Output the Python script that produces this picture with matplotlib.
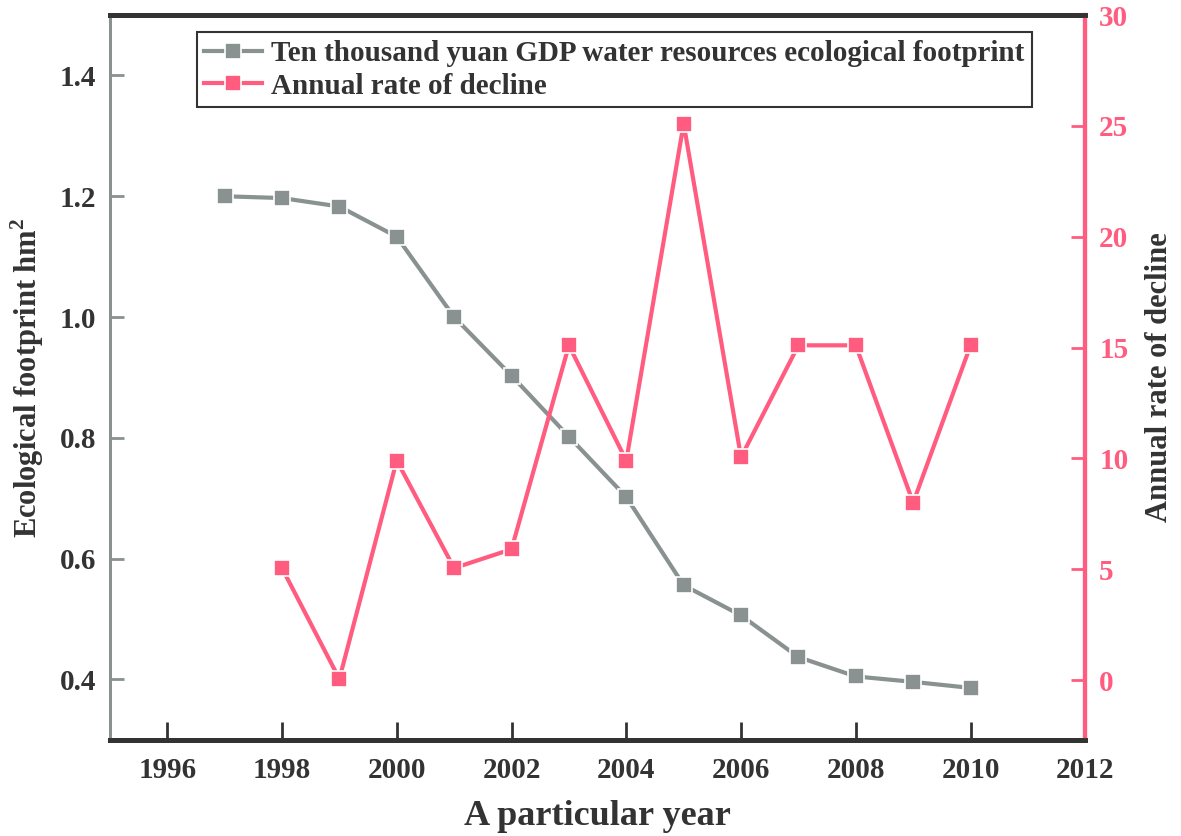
import matplotlib.pyplot as plt

plt.rcParams['font.family'] = ['Liberation Serif', 'DejaVu Serif']
plt.rcParams['font.weight'] = 'bold'
plt.rcParams['mathtext.fontset'] = 'custom'
plt.rcParams['mathtext.bf'] = 'Liberation Serif:bold'
plt.rcParams['mathtext.rm'] = 'Liberation Serif:bold'

years_fp = [1997, 1998, 1999, 2000, 2001, 2002, 2003, 2004, 2005, 2006, 2007, 2008, 2009, 2010]
footprint = [1.20, 1.197, 1.183, 1.133, 1.0, 0.903, 0.802, 0.702, 0.556, 0.506, 0.437, 0.405, 0.396, 0.386]

years_rate = [1998, 1999, 2000, 2001, 2002, 2003, 2004, 2005, 2006, 2007, 2008, 2009, 2010]
decline = [5.05, 0.05, 9.9, 5.05, 5.9, 15.1, 9.9, 25.1, 10.05, 15.1, 15.1, 8.0, 15.1]

x_ticks = [1996, 1998, 2000, 2002, 2004, 2006, 2008, 2010, 2012]

gray = '#8a9191'
pink = '#ff5c80'
dark = '#333333'

fig = plt.figure(figsize=(11.81, 8.36), dpi=100)
ax = fig.add_axes([0.093, 0.115, 0.826, 0.867])
ax2 = ax.twinx()

l1, = ax.plot(years_fp, footprint, color=gray, lw=3, marker='s', ms=12,
              mec='white', mew=1.2, label='Ten thousand yuan GDP water resources ecological footprint')
l2, = ax2.plot(years_rate, decline, color=pink, lw=3, marker='s', ms=12,
               mec='white', mew=1.2, label='Annual rate of decline')

ax.set_xlim(1995, 2012)
ax.set_ylim(0.3, 1.5)
ax2.set_ylim(-2.7, 30)
ax.set_xticks(x_ticks)
ax.set_yticks([0.4, 0.6, 0.8, 1.0, 1.2, 1.4])
ax2.set_yticks([0, 5, 10, 15, 20, 25, 30])

ax.tick_params(axis='x', direction='in', length=13, width=2, colors=dark,
               labelsize=21, pad=12)
ax.tick_params(axis='y', direction='in', length=10, width=2, colors=gray,
               labelcolor=dark, labelsize=21, pad=10)
ax2.tick_params(axis='y', direction='in', length=10, width=2, colors=pink,
                labelcolor=pink, labelsize=21, pad=10)
ax.set_yticklabels(['0.4', '0.6', '0.8', '1.0', '1.2', '1.4'])

for a in (ax, ax2):
    a.spines['top'].set_color(dark)
    a.spines['top'].set_linewidth(3.5)
    a.spines['bottom'].set_color(dark)
    a.spines['bottom'].set_linewidth(3.5)
    a.spines['left'].set_color(gray)
    a.spines['left'].set_linewidth(2)
    a.spines['right'].set_color(pink)
    a.spines['right'].set_linewidth(3)

ax.set_xlabel('A particular year', fontsize=26, fontweight='bold', color=dark, labelpad=12)
ax.set_ylabel('Ecological footprint hm$^\\mathbf{2}$', fontsize=22, fontweight='bold',
              color=dark, labelpad=10)
ax2.set_ylabel('Annual rate of decline', fontsize=22, fontweight='bold', color=dark,
               labelpad=12)

leg = ax2.legend(handles=[l1, l2], loc='upper left', bbox_to_anchor=(0.089, 0.976),
                 borderaxespad=0, fontsize=21, frameon=True, fancybox=False,
                 edgecolor='black', handlelength=2.0, handletextpad=0.3,
                 borderpad=0.25, labelspacing=0.2)
leg.get_frame().set_linewidth(1.5)
for t in leg.get_texts():
    t.set_color(dark)

fig.savefig('out.png', dpi=100)
